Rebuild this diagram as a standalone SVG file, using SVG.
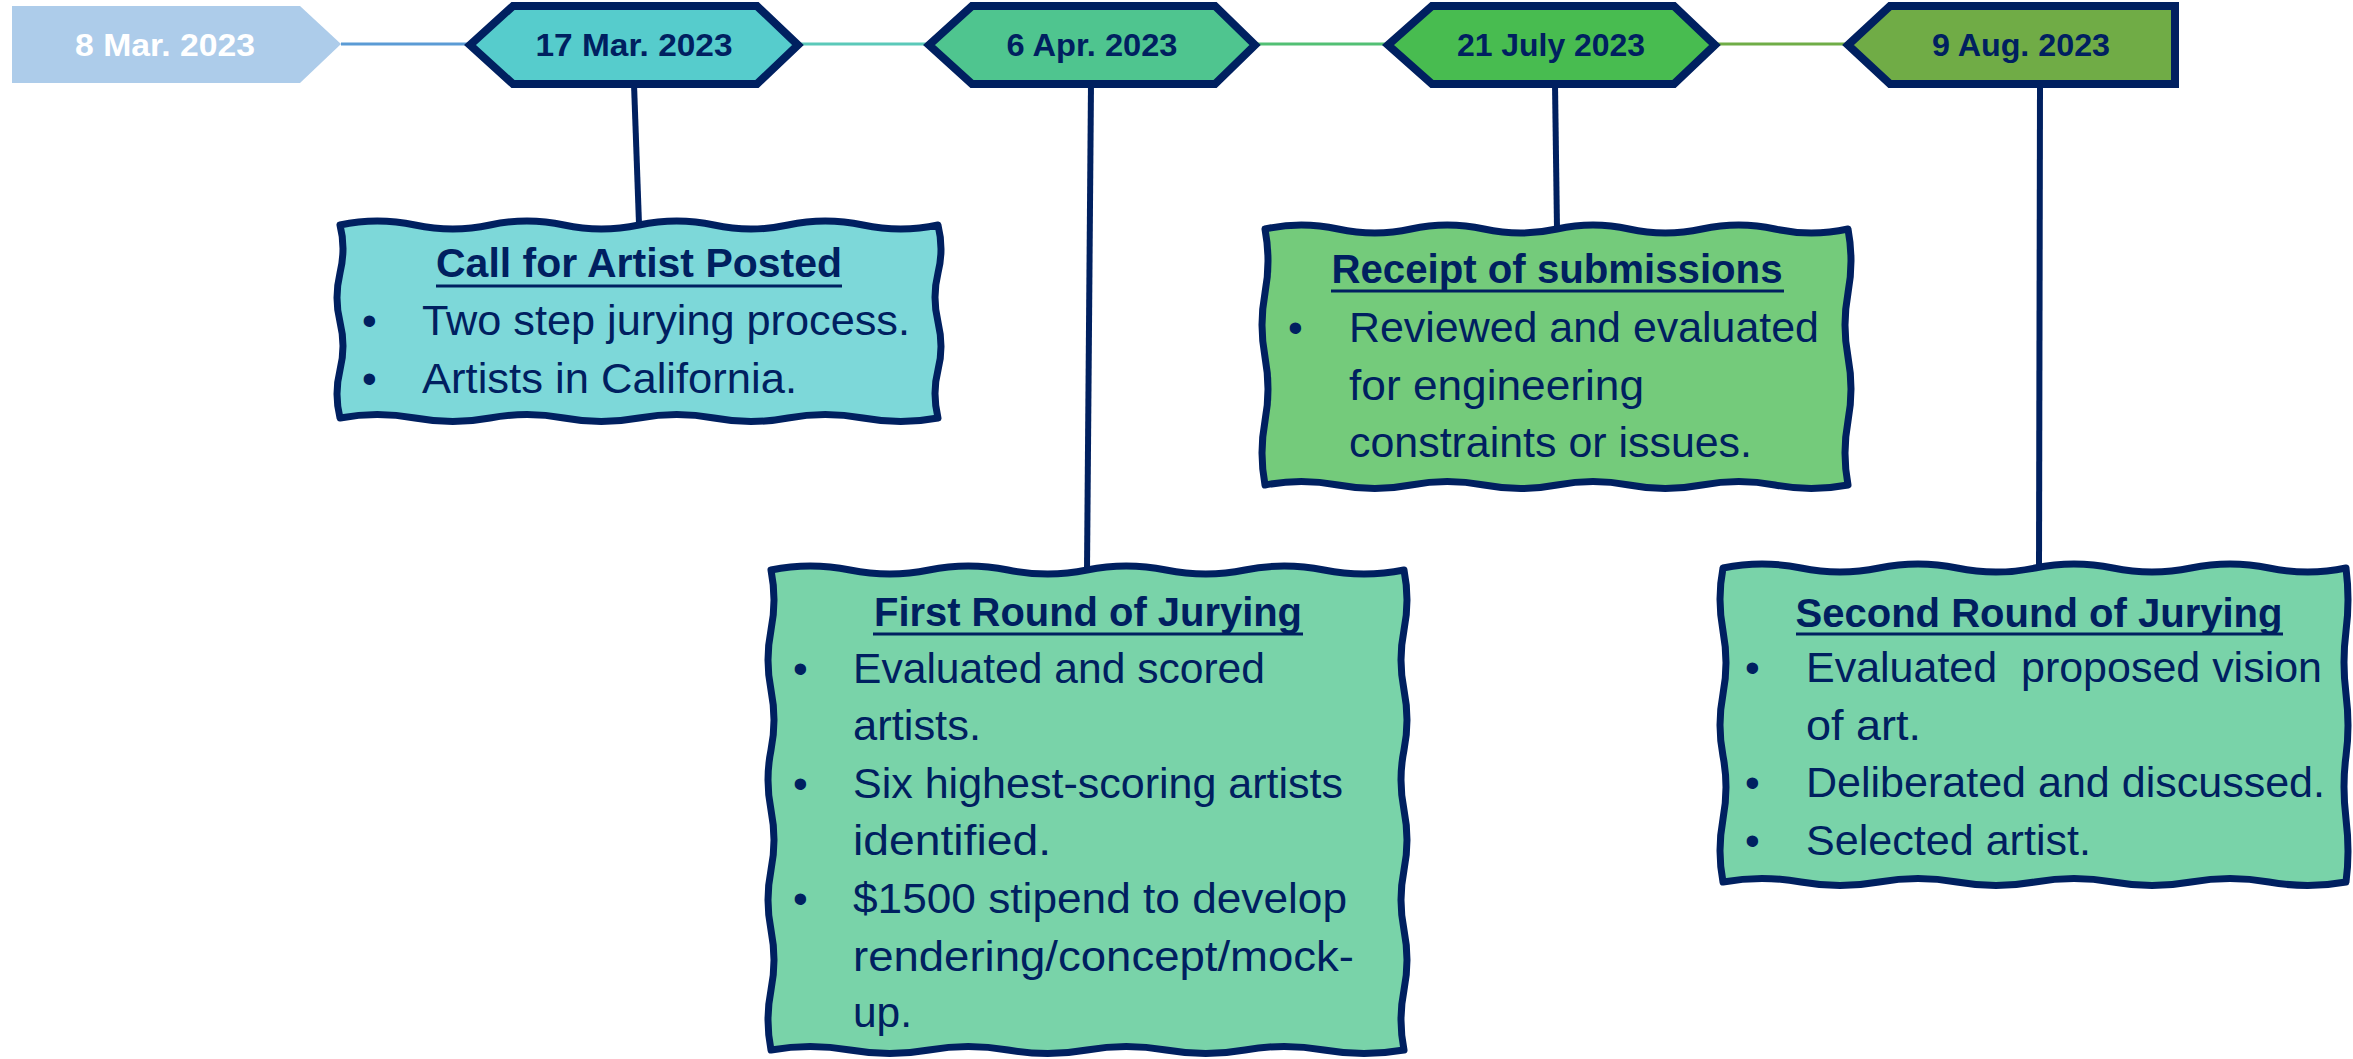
<svg xmlns="http://www.w3.org/2000/svg" width="2353" height="1059" viewBox="0 0 2353 1059">
<defs>
<style>
.bg{fill:#ffffff}
.hex{stroke:#002060;stroke-width:8;stroke-linejoin:miter}
.box{stroke:#002060;stroke-width:7;stroke-linejoin:round}
.date{font-family:"Liberation Sans",Arial,sans-serif;font-weight:bold;font-size:32px;fill:#002060;text-anchor:middle}
.title{font-family:"Liberation Sans",Arial,sans-serif;font-weight:bold;font-size:40px;fill:#002060;text-anchor:middle}
.body{font-family:"Liberation Sans",Arial,sans-serif;font-size:42px;fill:#002060}
.ul{stroke:#002060;stroke-width:3}
.vline{stroke:#002060;stroke-width:6;stroke-linecap:butt;fill:none}
.tl{stroke-width:3;fill:none}
</style>
</defs>
<rect class="bg" x="0" y="0" width="2353" height="1059"/>

<g id="connectors">
<line class="tl" x1="341" y1="44" x2="470" y2="44" stroke="#5B9BD5"/>
<line class="tl" x1="798" y1="44" x2="929" y2="44" stroke="#5BC9B9"/>
<line class="tl" x1="1255" y1="44" x2="1388" y2="44" stroke="#52C074"/>
<line class="tl" x1="1715" y1="44" x2="1848" y2="44" stroke="#70AD47"/>
<line class="vline" x1="634" y1="84" x2="639" y2="224"/>
<line class="vline" x1="1091" y1="84" x2="1087" y2="570"/>
<line class="vline" x1="1555" y1="84" x2="1557" y2="229"/>
<line class="vline" x1="2040" y1="84" x2="2039" y2="568"/>
</g>

<g id="date-8mar">
<polygon points="12,6 300,6 341,44 300,83 12,83" fill="#ADCCEA"/>
<text class="date" x="165" y="56" textLength="180" lengthAdjust="spacingAndGlyphs" style="fill:#ffffff">8 Mar. 2023</text>
</g>

<g id="date-17mar">
<polygon class="hex" points="470,45 513,6 757,6 798,45 757,84 513,84" fill="#56CCCC"/>
<text class="date" x="634" y="56" textLength="197" lengthAdjust="spacingAndGlyphs">17 Mar. 2023</text>
</g>

<g id="date-6apr">
<polygon class="hex" points="929,45 972,6 1215,6 1255,45 1215,84 972,84" fill="#4FC58F"/>
<text class="date" x="1092" y="56" textLength="171" lengthAdjust="spacingAndGlyphs">6 Apr. 2023</text>
</g>

<g id="date-21jul">
<polygon class="hex" points="1388,45 1432,6 1674,6 1715,45 1674,84 1432,84" fill="#48BC50"/>
<text class="date" x="1551" y="56" textLength="188" lengthAdjust="spacingAndGlyphs">21 July 2023</text>
</g>

<g id="date-9aug">
<polygon class="hex" points="1848,45 1890,6 2175,6 2175,84 1890,84" fill="#70AC46"/>
<text class="date" x="2021" y="56" textLength="178" lengthAdjust="spacingAndGlyphs">9 Aug. 2023</text>
</g>

<g id="box-call">
<path class="box" fill="#7DD8D9" d="M340,225 Q377,217 415,225 T490,225 T564,225 T639,225 T714,225 T788,225 T863,225 T938,225 Q944,249 938,273 T938,322 T938,370 T938,418 Q901,425 863,418 T788,418 T714,418 T639,418 T564,418 T490,418 T415,418 T340,418 Q334,394 340,370 T340,322 T340,273 T340,225 Z"/>
<text class="title" x="639" y="277" textLength="406" lengthAdjust="spacingAndGlyphs">Call for Artist Posted</text>
<line class="ul" x1="436" y1="286" x2="842" y2="286"/>
<text class="body" x="362" y="335">•</text>
<text class="body" x="422" y="335" textLength="488" lengthAdjust="spacingAndGlyphs">Two step jurying process.</text>
<text class="body" x="362" y="393">•</text>
<text class="body" x="422" y="393" textLength="375" lengthAdjust="spacingAndGlyphs">Artists in California.</text>
</g>

<g id="box-first-round">
<path class="box" fill="#79D3A9" d="M771,570 Q810,562 850,570 T929,570 T1008,570 T1087,570 T1166,570 T1245,570 T1324,570 T1404,570 Q1410,600 1404,630 T1404,690 T1404,750 T1404,810 T1404,870 T1404,930 T1404,990 T1404,1050 Q1364,1057 1324,1050 T1245,1050 T1166,1050 T1087,1050 T1008,1050 T929,1050 T850,1050 T771,1050 Q765,1020 771,990 T771,930 T771,870 T771,810 T771,750 T771,690 T771,630 T771,570 Z"/>
<text class="title" x="1088" y="626" textLength="428" lengthAdjust="spacingAndGlyphs">First Round of Jurying</text>
<line class="ul" x1="873" y1="634" x2="1303" y2="634"/>
<text class="body" x="793" y="683">•</text>
<text class="body" x="853" y="683" textLength="412" lengthAdjust="spacingAndGlyphs">Evaluated and scored</text>
<text class="body" x="853" y="740" textLength="128" lengthAdjust="spacingAndGlyphs">artists.</text>
<text class="body" x="793" y="798">•</text>
<text class="body" x="853" y="798" textLength="490" lengthAdjust="spacingAndGlyphs">Six highest-scoring artists</text>
<text class="body" x="853" y="855" textLength="198" lengthAdjust="spacingAndGlyphs">identified.</text>
<text class="body" x="793" y="913">•</text>
<text class="body" x="853" y="913" textLength="494" lengthAdjust="spacingAndGlyphs">$1500 stipend to develop</text>
<text class="body" x="853" y="971" textLength="501" lengthAdjust="spacingAndGlyphs">rendering/concept/mock-</text>
<text class="body" x="853" y="1027" textLength="59" lengthAdjust="spacingAndGlyphs">up.</text>
</g>

<g id="box-receipt">
<path class="box" fill="#74CB7B" d="M1265,229 Q1301,221 1338,229 T1411,229 T1484,229 T1557,229 T1629,229 T1702,229 T1775,229 T1848,229 Q1854,261 1848,293 T1848,357 T1848,421 T1848,485 Q1811,492 1775,485 T1702,485 T1629,485 T1557,485 T1484,485 T1411,485 T1338,485 T1265,485 Q1259,453 1265,421 T1265,357 T1265,293 T1265,229 Z"/>
<text class="title" x="1557" y="283" textLength="451" lengthAdjust="spacingAndGlyphs">Receipt of submissions</text>
<line class="ul" x1="1331" y1="291" x2="1784" y2="291"/>
<text class="body" x="1288" y="342">•</text>
<text class="body" x="1349" y="342" textLength="470" lengthAdjust="spacingAndGlyphs">Reviewed and evaluated</text>
<text class="body" x="1349" y="400" textLength="295" lengthAdjust="spacingAndGlyphs">for engineering</text>
<text class="body" x="1349" y="457" textLength="403" lengthAdjust="spacingAndGlyphs">constraints or issues.</text>
</g>

<g id="box-second-round">
<path class="box" fill="#79D3A9" d="M1723,568 Q1762,560 1801,568 T1879,568 T1957,568 T2035,568 T2113,568 T2191,568 T2269,568 T2346,568 Q2350,600 2346,631 T2346,694 T2346,756 T2346,819 T2346,882 Q2308,889 2269,882 T2191,882 T2113,882 T2035,882 T1957,882 T1879,882 T1801,882 T1723,882 Q1717,851 1723,819 T1723,756 T1723,694 T1723,631 T1723,568 Z"/>
<text class="title" x="2039" y="627" textLength="487" lengthAdjust="spacingAndGlyphs">Second Round of Jurying</text>
<line class="ul" x1="1796" y1="634" x2="2283" y2="634"/>
<text class="body" x="1745" y="682">•</text>
<text class="body" x="1806" y="682" textLength="516" lengthAdjust="spacingAndGlyphs" xml:space="preserve">Evaluated  proposed vision</text>
<text class="body" x="1806" y="740" textLength="115" lengthAdjust="spacingAndGlyphs">of art.</text>
<text class="body" x="1745" y="797">•</text>
<text class="body" x="1806" y="797" textLength="519" lengthAdjust="spacingAndGlyphs">Deliberated and discussed.</text>
<text class="body" x="1745" y="855">•</text>
<text class="body" x="1806" y="855" textLength="285" lengthAdjust="spacingAndGlyphs">Selected artist.</text>
</g>
</svg>
